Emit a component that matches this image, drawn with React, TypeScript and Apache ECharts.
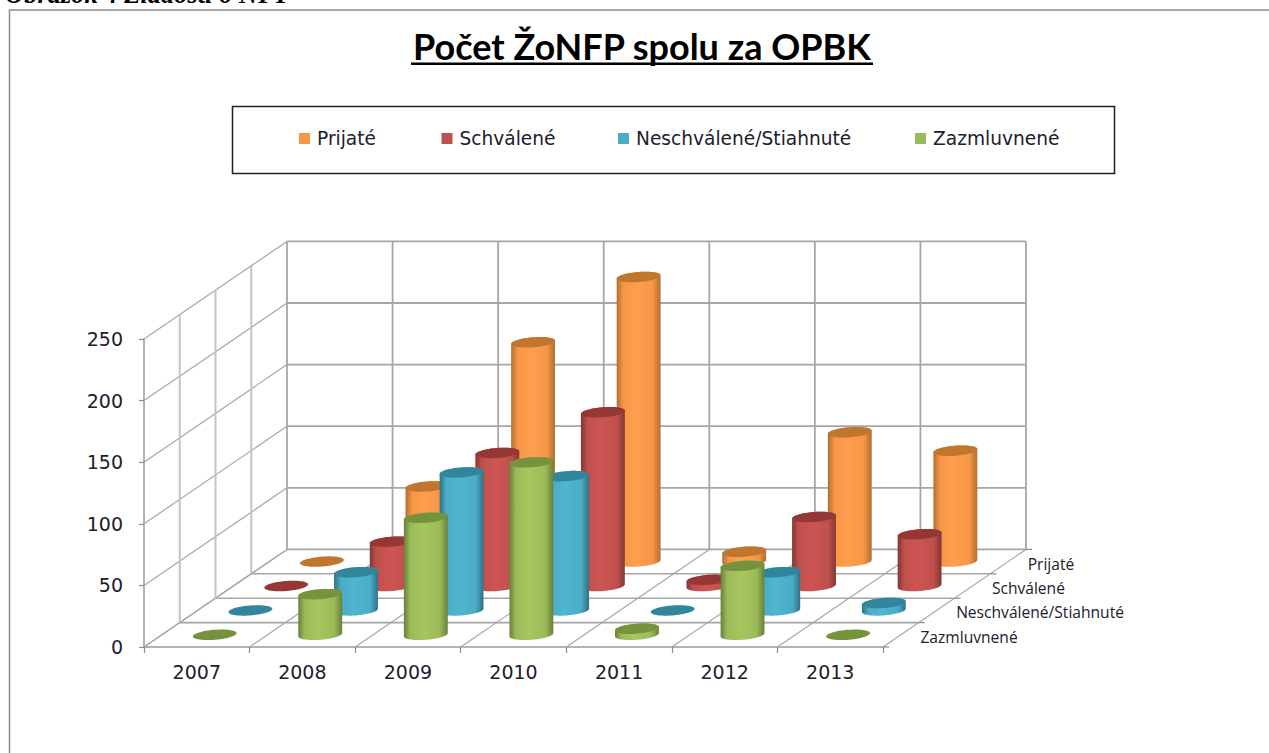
import React, { useEffect, useRef } from "react";
import * as echarts from "echarts";

const categories = ["2007", "2008", "2009", "2010", "2011", "2012", "2013"];
const seriesNames = ["Prijaté", "Schválené", "Neschválené/Stiahnuté", "Zazmluvnené"];
const prijate = [0, 61, 178, 231, 8, 105, 90];
const schvalene = [0, 36, 108, 141, 5, 56, 42];
const neschvalene = [0, 31, 112, 109, 0, 31, 6];
const zazmluvnene = [0, 33, 95, 140, 5, 56, 0];
const yTicks = [0, 50, 100, 150, 200, 250];

const values = [prijate, schvalene, neschvalene, zazmluvnene];
const palette = [
  { base: "#f79646", light: "#fd9f4e", edge: "#b06f2f", top: "#c0762f" },
  { base: "#c0504d", light: "#cc5553", edge: "#823634", top: "#953735" },
  { base: "#4bacc6", light: "#4fb5d1", edge: "#2d7286", top: "#31859c" },
  { base: "#9bbb59", light: "#a5c75e", edge: "#68803a", top: "#76923c" },
];

const DEPTH_DX = 35.75;
const DEPTH_DY = -24.4;
const ROWS = 4;
const RX = 22;
const RY = 5;
const TILT = (4.5 * Math.PI) / 180;
const FONT = "'DejaVu Sans', sans-serif";
const INK = "#20202c";
const WALL = "#a6a6a6";

// depth position 0 = front, ROWS = back wall
const off = (d: number) => [DEPTH_DX * d, DEPTH_DY * d];

// Point on a slightly tilted ellipse; a = 0 is the right end, a = PI/2 the lower side.
const onEllipse = (cx: number, cy: number, a: number) => {
  const ux = RX * Math.cos(a);
  const uy = RY * Math.sin(a);
  return [cx + ux * Math.cos(TILT) + uy * Math.sin(TILT), cy - ux * Math.sin(TILT) + uy * Math.cos(TILT)];
};
const arc = (cx: number, cy: number, from: number, to: number, n = 24) => {
  const pts: number[][] = [];
  for (let i = 0; i <= n; i++) pts.push(onEllipse(cx, cy, from + ((to - from) * i) / n));
  return pts;
};

function cylinderItem(row: number) {
  return (params: any, api: any) => {
    const cat = api.value(0);
    const val = api.value(1);
    const depth = ROWS - row - 0.5;
    const [ox, oy] = off(depth);
    const b = api.coord([cat, 0]);
    const t = api.coord([cat, val]);
    const cx = b[0] + ox;
    const by = b[1] + oy;
    const ty = t[1] + oy;
    const c = palette[row];
    const children: any[] = [];
    if (val > 0) {
      children.push({
        type: "polygon",
        shape: {
          points: [...arc(cx, by, Math.PI, 0), ...arc(cx, ty, 0, -Math.PI)],
        },
        style: {
          fill: {
            type: "linear",
            x: 0,
            y: 0,
            x2: 1,
            y2: 0,
            colorStops: [
              { offset: 0, color: c.edge },
              { offset: 0.15, color: c.base },
              { offset: 0.45, color: c.light },
              { offset: 0.82, color: c.base },
              { offset: 1, color: c.edge },
            ],
          },
        },
      });
    }
    children.push({
      type: "polygon",
      shape: { points: arc(cx, ty, 0, 2 * Math.PI, 48) },
      style: { fill: c.top },
    });
    return { type: "group", children };
  };
}

function wallsItem(params: any, api: any) {
  const children: any[] = [];
  const n = categories.length;
  const p0 = api.coord([0, 0]);
  const step = api.size([1, 0])[0];
  const xAt = (i: number) => p0[0] - step / 2 + step * i;
  const line = (x1: number, y1: number, x2: number, y2: number, w = 1.8, color = WALL) =>
    children.push({
      type: "line",
      shape: { x1, y1, x2, y2 },
      style: { stroke: color, lineWidth: w },
    });
  const [bx, by] = off(ROWS);
  const yTop = api.coord([0, yTicks[yTicks.length - 1]])[1];
  const yZero = p0[1];
  yTicks.forEach((v) => {
    const y = api.coord([0, v])[1];
    line(xAt(0) + bx, y + by, xAt(n) + bx, y + by);
    line(xAt(0), y, xAt(0) + bx, y + by, 1.2);
  });
  for (let i = 0; i <= n; i++) {
    line(xAt(i) + bx, yTop + by, xAt(i) + bx, yZero + by);
    line(xAt(i), yZero, xAt(i) + bx, yZero + by, 1.2);
  }
  for (let d = 1; d < ROWS; d++) {
    const [ox, oy] = off(d);
    line(xAt(0) + ox, yTop + oy, xAt(0) + ox, yZero + oy, 2, "#c4c4c4");
    line(xAt(0) + ox, yZero + oy, xAt(n) + ox, yZero + oy, 1.6);
  }
  for (let d = 0; d <= ROWS; d++) {
    const [ox, oy] = off(d);
    line(xAt(n) + ox, yZero + oy, xAt(n) + ox + 6, yZero + oy, 1.2, "#8a8a8a");
  }
  seriesNames.forEach((name, row) => {
    const [ox, oy] = off(ROWS - row - 0.5);
    children.push({
      type: "text",
      x: xAt(n) + ox + 19.5,
      y: yZero + oy + 2,
      style: {
        text: name,
        fill: INK,
        font: "15.6px 'Open Sans', sans-serif",
        textAlign: "left",
        textVerticalAlign: "middle",
      },
    });
  });
  return { type: "group", children };
}

const legendLefts = [299, 441.5, 618, 915];

export default function App() {
  const ref = useRef<HTMLDivElement>(null);
  useEffect(() => {
    const chart = echarts.init(ref.current!, undefined, { renderer: "svg" });
    chart.setOption({
      animation: false,
      backgroundColor: "#ffffff",
      grid: { left: 144, width: 739, top: 339, height: 308, containLabel: false },
      xAxis: {
        type: "category",
        data: categories,
        axisLine: { lineStyle: { color: "#9a9a9a", width: 1.5 } },
        axisTick: { show: true, length: 6, lineStyle: { color: "#8a8a8a", width: 1.2 } },
        axisLabel: { color: INK, fontFamily: FONT, fontSize: 19, margin: 15 },
      },
      yAxis: {
        type: "value",
        min: 0,
        max: 250,
        interval: 50,
        splitLine: { show: false },
        axisLine: { show: true, lineStyle: { color: "#9a9a9a", width: 1.5 } },
        axisTick: { show: true, length: 5, lineStyle: { color: "#8a8a8a", width: 1.2 } },
        axisLabel: { color: INK, fontFamily: FONT, fontSize: 19, margin: 21 },
      },
      legend: seriesNames.map((name, i) => ({
        data: [name],
        left: legendLefts[i],
        top: 129,
        padding: 0,
        icon: "rect",
        itemWidth: 11,
        itemHeight: 11,
        selectedMode: false,
        textStyle: { color: INK, fontFamily: FONT, fontSize: 18.6, padding: [0, 0, 0, 2] },
      })),
      graphic: [
        {
          type: "rect",
          z: -10,
          shape: { x: 9.5, y: 10, width: 1400, height: 900 },
          style: { fill: "#fff", stroke: "#8c8c8c", lineWidth: 1.5 },
        },
        {
          type: "text",
          x: 5,
          y: 7,
          style: {
            text: "Obrázok 4 Žiadosti o NFP",
            fill: "#000",
            font: "italic bold 26.5px 'Liberation Serif', serif",
            textAlign: "left",
            textVerticalAlign: "bottom",
          },
        },
        {
          type: "text",
          x: 642,
          y: 46,
          style: {
            text: "Počet ŽoNFP spolu za OPBK",
            fill: "#000",
            font: "bold 36px Lato, sans-serif",
            textAlign: "center",
            textVerticalAlign: "middle",
          },
        },
        {
          type: "rect",
          shape: { x: 411, y: 62.5, width: 462, height: 2.5 },
          style: { fill: "#000" },
        },
        {
          type: "rect",
          z: -5,
          shape: { x: 232.5, y: 106.5, width: 882, height: 67 },
          style: { fill: "#fff", stroke: "#222", lineWidth: 1.5 },
        },
      ],
      series: [
        {
          type: "custom",
          name: "walls",
          silent: true,
          z: 1,
          renderItem: wallsItem,
          data: [[0, 0]],
          encode: { x: 0, y: 1 },
        },
        ...seriesNames.map((name, row) => ({
          type: "custom",
          name,
          z: 2 + row,
          itemStyle: { color: palette[row].base },
          renderItem: cylinderItem(row),
          data: values[row].map((v, i) => [i, v]),
          encode: { x: 0, y: 1 },
        })),
      ],
    });
    return () => chart.dispose();
  }, []);
  return (
    <div
      ref={ref}
      style={{ position: "absolute", left: 0, top: 0, width: 1269, height: 753 }}
    />
  );
}
